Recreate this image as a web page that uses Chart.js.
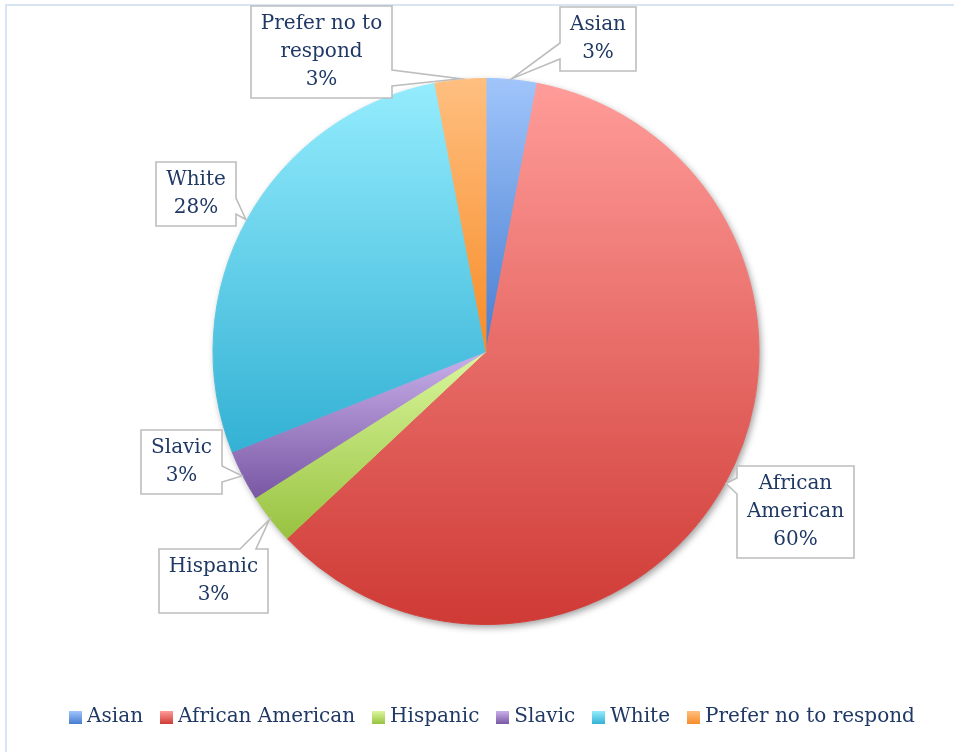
<!DOCTYPE html>
<html>
<head>
<meta charset="utf-8">
<title>Participants by ethnicity</title>
<script src="https://cdn.jsdelivr.net/npm/chart.js@4.4.0/dist/chart.umd.min.js"></script>
<style>
  html, body { margin: 0; padding: 0; background: #ffffff; }
  #frame {
    position: absolute; left: 5px; top: 4px; width: 1000px; height: 800px;
    border: 2px solid #d9e4f3; box-sizing: border-box;
  }
  #wrap { position: absolute; left: 0; top: 0; width: 954px; height: 752px; }
</style>
</head>
<body>
<div id="frame"></div>
<div id="wrap"><canvas id="pie" width="954" height="752"></canvas></div>
<script>
// Survey respondents by ethnicity (percent of total)
const categories = ['Asian', 'African American', 'Hispanic', 'Slavic', 'White', 'Prefer no to respond'];
const shares = [3, 60, 3, 3, 28, 3];

// Two-stop vertical shading for each slice: light at the top, deep at the bottom
const lightColors = ['#a0c5fb', '#ff9c99', '#daf79d', '#c9b0ea', '#94ecfd', '#ffbf80'];
const darkColors  = ['#467cd0', '#cf3a35', '#98c240', '#7957a4', '#33b1d4', '#f78c28'];

// Callout box centres, relative to the pie centre (px)
const calloutOffsets = [[112, -313], [309, 160], [-273, 229], [-305, 110], [-290, -158], [-165, -300]];

const TEXT_COLOR = '#1f3864';
const FONT_FAMILY = '"DejaVu Serif", serif';
const FONT_SIZE = 20;
const LINE_H = 28;

function shadeFor(ctx, i, y0, y1) {
  const g = ctx.createLinearGradient(0, y0, 0, y1);
  g.addColorStop(0, lightColors[i]);
  g.addColorStop(1, darkColors[i]);
  return g;
}

// vertical extent of a pie slice
function arcExtentY(arc) {
  const {x, y, startAngle, endAngle, outerRadius: r} = arc.getProps(['x', 'y', 'startAngle', 'endAngle', 'outerRadius'], true);
  const ys = [y, y + r * Math.sin(startAngle), y + r * Math.sin(endAngle)];
  const k0 = Math.ceil(startAngle / (Math.PI / 2));
  for (let k = k0; k * Math.PI / 2 <= endAngle; k++) {
    ys.push(y + r * Math.sin(k * Math.PI / 2));
  }
  return [Math.min(...ys), Math.max(...ys)];
}

const sliceShading = {
  id: 'sliceShading',
  beforeDatasetsDraw(chart) {
    const ctx = chart.ctx;
    const meta = chart.getDatasetMeta(0);
    meta.data.forEach((arc, i) => {
      const [y0, y1] = arcExtentY(arc);
      const g = shadeFor(ctx, i, y0, y1);
      arc.options.backgroundColor = g;
      arc.options.borderColor = g;
    });
    // soft drop shadow under the whole pie
    const a = meta.data[0];
    ctx.save();
    ctx.shadowColor = 'rgba(0,0,0,0.38)';
    ctx.shadowBlur = 7;
    ctx.shadowOffsetX = 2;
    ctx.shadowOffsetY = 3;
    ctx.fillStyle = '#ffffff';
    ctx.beginPath();
    ctx.arc(a.x, a.y, a.outerRadius, 0, Math.PI * 2);
    ctx.fill();
    ctx.restore();
  }
};

function wrapText(ctx, text, maxW) {
  const words = text.split(' ');
  const lines = [];
  let cur = '';
  words.forEach(w => {
    const test = cur ? cur + ' ' + w : w;
    if (cur && ctx.measureText(test).width > maxW) {
      lines.push(cur);
      cur = w;
    } else {
      cur = test;
    }
  });
  if (cur) lines.push(cur);
  return lines;
}

const callouts = {
  id: 'callouts',
  afterDatasetsDraw(chart) {
    const ctx = chart.ctx;
    const meta = chart.getDatasetMeta(0);
    ctx.save();
    ctx.font = FONT_SIZE + 'px ' + FONT_FAMILY;
    meta.data.forEach((arc, i) => {
      const {x: cx, y: cy, startAngle, endAngle, outerRadius: r} = arc;
      const mid = (startAngle + endAngle) / 2;
      const tip = {x: cx + (r + 1) * Math.cos(mid), y: cy + (r + 1) * Math.sin(mid)};

      const lines = wrapText(ctx, categories[i], 122).concat([shares[i] + '%']);
      const textW = Math.max(...lines.map(l => ctx.measureText(l).width));
      const w = Math.round(textW + 20);
      const h = lines.length * LINE_H + 8;
      const bx = Math.round(cx + calloutOffsets[i][0] - w / 2);
      const by = Math.round(cy + calloutOffsets[i][1] - h / 2);
      const L = bx, R = bx + w, T = by, B = by + h;

      // pick the side of the box that faces the slice
      const outX = Math.max(L - tip.x, tip.x - R, 0);
      const outY = Math.max(T - tip.y, tip.y - B, 0);
      let side;
      if (outX >= outY) side = tip.x < L ? 'left' : 'right';
      else side = tip.y < T ? 'top' : 'bottom';
      const m = 20, half = 8;
      const clamp = (v, a, b) => Math.max(a, Math.min(b, v));

      ctx.beginPath();
      ctx.moveTo(L, T);
      if (side === 'top') {
        const c = clamp(tip.x, L + m, R - m);
        ctx.lineTo(c - half, T); ctx.lineTo(tip.x, tip.y); ctx.lineTo(c + half, T);
      }
      ctx.lineTo(R, T);
      if (side === 'right') {
        const c = clamp(tip.y, T + m, B - m);
        ctx.lineTo(R, c - half); ctx.lineTo(tip.x, tip.y); ctx.lineTo(R, c + half);
      }
      ctx.lineTo(R, B);
      if (side === 'bottom') {
        const c = clamp(tip.x, L + m, R - m);
        ctx.lineTo(c + half, B); ctx.lineTo(tip.x, tip.y); ctx.lineTo(c - half, B);
      }
      ctx.lineTo(L, B);
      if (side === 'left') {
        const c = clamp(tip.y, T + m, B - m);
        ctx.lineTo(L, c + half); ctx.lineTo(tip.x, tip.y); ctx.lineTo(L, c - half);
      }
      ctx.closePath();
      ctx.fillStyle = '#ffffff';
      ctx.fill();
      ctx.lineWidth = 1.6;
      ctx.strokeStyle = '#bdbdbd';
      ctx.lineJoin = 'miter';
      ctx.stroke();

      ctx.fillStyle = TEXT_COLOR;
      ctx.textAlign = 'center';
      ctx.textBaseline = 'middle';
      lines.forEach((ln, k) => {
        ctx.fillText(ln, (L + R) / 2, T + 4 + LINE_H / 2 + k * LINE_H);
      });
    });
    ctx.restore();
  }
};

// nudge the legend row slightly right of the pie's axis
const legendShift = {
  id: 'legendShift',
  afterLayout(chart) {
    chart.legend.left += 6;
    chart.legend.right += 6;
  }
};

// shaded squares for the legend entries
const legendSwatches = {
  id: 'legendSwatches',
  afterDraw(chart) {
    const ctx = chart.ctx;
    const boxes = chart.legend.legendHitBoxes;
    boxes.forEach((hb, i) => {
      const top = Math.round(hb.top + (FONT_SIZE - 13) / 2);
      const left = Math.round(hb.left);
      ctx.fillStyle = shadeFor(ctx, i, top, top + 13);
      ctx.fillRect(left, top, 13, 13);
    });
  }
};

new Chart(document.getElementById('pie'), {
  type: 'pie',
  data: {
    labels: categories,
    datasets: [{
      data: shares,
      backgroundColor: darkColors.slice(),
      borderColor: darkColors.slice(),
      borderWidth: 1,
      radius: 273
    }]
  },
  options: {
    responsive: false,
    animation: false,
    layout: { padding: { top: 13, bottom: 15, left: 18, right: 0 } },
    plugins: {
      tooltip: { enabled: false },
      legend: {
        position: 'bottom',
        labels: {
          boxWidth: 8,
          boxHeight: 8,
          padding: 17,
          color: TEXT_COLOR,
          font: { family: FONT_FAMILY, size: FONT_SIZE },
          generateLabels: () => categories.map((t, i) => ({
            text: t,
            fillStyle: 'rgba(0,0,0,0)',
            strokeStyle: 'rgba(0,0,0,0)',
            lineWidth: 0,
            fontColor: TEXT_COLOR,
            hidden: false,
            index: i
          }))
        }
      }
    }
  },
  plugins: [sliceShading, callouts, legendShift, legendSwatches]
});
</script>
</body>
</html>
